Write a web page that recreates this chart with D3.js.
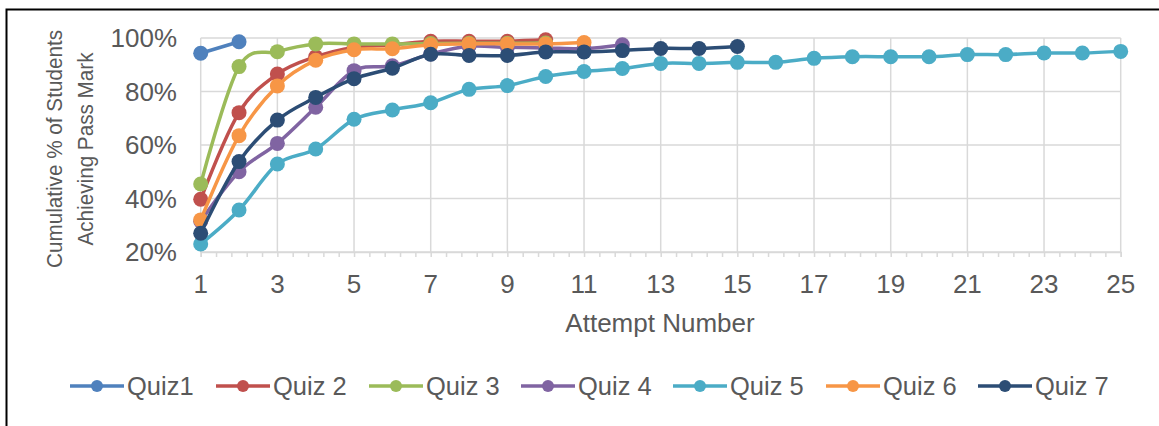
<!DOCTYPE html>
<html><head><meta charset="utf-8">
<script src="https://cdn.jsdelivr.net/npm/d3@7"></script>
<style>body{margin:0;background:#fff;} text{font-family:"Liberation Sans",Arial,sans-serif;fill:#595959;}</style>
</head><body><svg id="c" width="1159" height="426"></svg>
<script>
const seriesNames = ["Quiz1","Quiz 2","Quiz 3","Quiz 4","Quiz 5","Quiz 6","Quiz 7"];
const seriesColors = ["#4F81BD","#C0504D","#9BBB59","#8064A2","#4BACC6","#F79646","#2C4D75"];
const quiz1 = [94.3, 98.6];
const quiz2 = [39.7, 72.1, 86.5, 93.0, 96.5, 97.5, 98.8, 98.8, 98.8, 99.3];
const quiz3 = [45.4, 89.3, 94.9, 97.8, 97.8, 97.8, 97.9, 98.0, 98.0, 98.1];
const quiz4 = [31.5, 50.0, 60.6, 74.1, 87.8, 89.6, 94.0, 96.9, 96.5, 96.3, 96.0, 97.5];
const quiz5 = [23.0, 35.7, 52.9, 58.5, 69.6, 73.1, 75.8, 80.8, 82.2, 85.6, 87.5, 88.6, 90.5, 90.5, 90.9, 90.9, 92.4, 93.0, 93.0, 93.0, 93.8, 93.8, 94.4, 94.4, 95.0];
const quiz6 = [32.0, 63.5, 82.1, 91.7, 95.6, 96.0, 97.5, 97.8, 97.8, 97.8, 98.3];
const quiz7 = [27.0, 53.8, 69.3, 77.8, 84.8, 88.7, 93.9, 93.5, 93.5, 94.8, 94.8, 95.3, 96.1, 96.1, 96.8];
const seriesValues = [quiz1, quiz2, quiz3, quiz4, quiz5, quiz6, quiz7];
const xTicks = [1,3,5,7,9,11,13,15,17,19,21,23,25];
const yTicks = [20,40,60,80,100];
const xTitle = "Attempt Number";
const yTitle = ["Cumulative % of Students", "Achieving Pass Mark"];

const svg = d3.select("#c");
const x = d3.scaleLinear().domain([1,25]).range([200.7,1120.7]);
const y = d3.scaleLinear().domain([20,100]).range([252,38]);

// chart border
svg.append("rect").attr("x",6.5).attr("y",9.5).attr("width",1200).attr("height",500)
  .attr("fill","none").attr("stroke","#000").attr("stroke-width",2);

// gridlines
const g = svg.append("g");
g.selectAll(".hg").data(yTicks).join("line")
  .attr("x1",x(1)).attr("x2",x(25)).attr("y1",d=>y(d)).attr("y2",d=>y(d))
  .attr("stroke","#D9D9D9").attr("stroke-width",1.5);
g.selectAll(".vg").data(xTicks).join("line")
  .attr("x1",d=>x(d)).attr("x2",d=>x(d)).attr("y1",y(100)).attr("y2",y(20))
  .attr("stroke","#D9D9D9").attr("stroke-width",1.5);

// x axis with minor ticks
const minor = d3.range(0,61).map(i=>1+i*0.4);
const xAxis = d3.axisBottom(x).tickValues(minor).tickSize(5).tickFormat("");
const xa = svg.append("g").attr("transform",`translate(0,${y(20)})`).call(xAxis);
xa.select(".domain").attr("stroke","#D9D9D9").attr("stroke-width",1.5);
xa.selectAll(".tick line").attr("stroke","#D9D9D9").attr("stroke-width",1.5);

svg.selectAll(".xl").data(xTicks).join("text")
  .attr("x",d=>x(d)).attr("y",292.5).attr("text-anchor","middle")
  .style("font-size","26px").text(d=>d);
svg.selectAll(".yl").data(yTicks).join("text")
  .attr("x",177).attr("y",d=>y(d)+9.3).attr("text-anchor","end")
  .style("font-size","26px").text(d=>d+"%");

svg.append("text").attr("x",660).attr("y",331.5).attr("text-anchor","middle")
  .style("font-size","26px").text(xTitle);
const titleLens = [238, 193];
const titleX = [62, 93];
yTitle.forEach((t,i)=>{
  svg.append("text").attr("transform",`translate(${titleX[i]},149) rotate(-90)`)
    .attr("text-anchor","middle").style("font-size","22.5px")
    .attr("textLength",titleLens[i]).attr("lengthAdjust","spacingAndGlyphs").text(t);
});

// series
const line = d3.line().x((d,i)=>x(i+1)).y(d=>y(d)).curve(d3.curveCardinal.tension(0));
seriesValues.forEach((vals,si)=>{
  const c = seriesColors[si];
  const sg = svg.append("g");
  sg.append("path").datum(vals).attr("d",line).attr("fill","none")
    .attr("stroke",c).attr("stroke-width",3.5).attr("stroke-linejoin","round");
  sg.selectAll("circle").data(vals).join("circle")
    .attr("cx",(d,i)=>x(i+1)).attr("cy",d=>y(d)).attr("r",7.5).attr("fill",c);
});

// legend
const legX = [70,216,369,521,673,826,978];
const lg = svg.append("g");
seriesNames.forEach((n,i)=>{
  const lx = legX[i], ly = 386;
  lg.append("line").attr("x1",lx).attr("x2",lx+54).attr("y1",ly).attr("y2",ly)
    .attr("stroke",seriesColors[i]).attr("stroke-width",3.5);
  lg.append("circle").attr("cx",lx+27).attr("cy",ly).attr("r",6).attr("fill",seriesColors[i]);
  lg.append("text").attr("x",lx+57).attr("y",ly+9).style("font-size","25.5px").text(n);
});
</script></body></html>
